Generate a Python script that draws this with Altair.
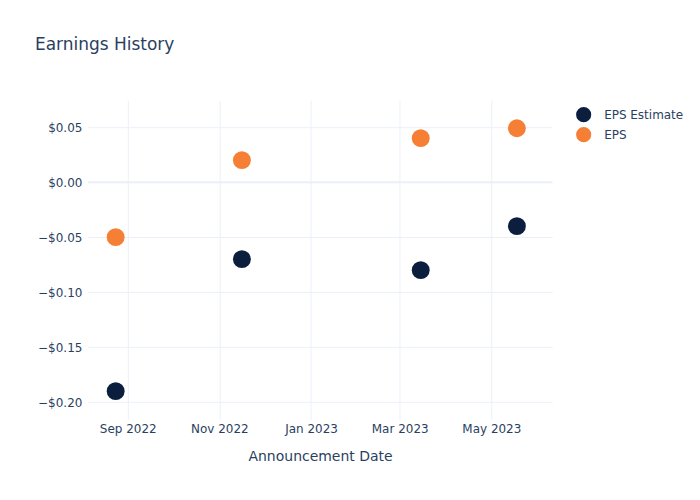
import altair as alt
import pandas as pd

dates = ["2022-08-24", "2022-11-16", "2023-03-15", "2023-05-18"]
eps_estimate = [-0.19, -0.07, -0.08, -0.04]
eps_actual = [-0.05, 0.02, 0.04, 0.049]
series_names = ["EPS Estimate", "EPS"]
series_colors = ["#0b1e3e", "#f57f35"]

rows = []
for d, e, a in zip(dates, eps_estimate, eps_actual):
    rows.append({"date": d, "value": e, "series": series_names[0]})
    rows.append({"date": d, "value": a, "series": series_names[1]})
df = pd.DataFrame(rows)

font = "DejaVu Sans"
txt = "#2a3f5f"
grid = "#ebf0f8"

xscale = alt.Scale(domain=["2022-08-05T12:00:00", "2023-06-10T12:00:00"], nice=False)
yscale = alt.Scale(domain=[-0.216, 0.0745], nice=False, zero=False)
yaxis = alt.Axis(values=[-0.2, -0.15, -0.1, -0.05, 0, 0.05], format="$.2f",
                 grid=True, gridColor=grid, domain=False, ticks=False,
                 labelPadding=6, labelFontSize=12, labelColor=txt, labelFont=font)

points = alt.Chart(df).mark_circle(size=320, opacity=1).encode(
    x=alt.X("date:T", title="Announcement Date", scale=xscale,
            axis=alt.Axis(format="%b %Y", tickCount={"interval": "month", "step": 2},
                          grid=True, gridColor=grid, domain=False, ticks=False,
                          labelPadding=4, labelFontSize=12, labelColor=txt,
                          titleFontSize=14, titleColor=txt, titleFontWeight="normal",
                          titlePadding=15, labelFont=font, titleFont=font)),
    y=alt.Y("value:Q", title=None, scale=yscale, axis=yaxis),
    color=alt.Color("series:N", title=None,
                    scale=alt.Scale(domain=series_names, range=series_colors),
                    sort=series_names,
                    legend=alt.Legend(orient="none", legendX=488, legendY=6,
                                      symbolType="circle", symbolSize=230,
                                      symbolOpacity=1, labelFontSize=12, labelColor=txt,
                                      labelFont=font, rowPadding=3, labelOffset=12)),
)

zero = alt.Chart(pd.DataFrame({"z": [0]})).mark_rule(color=grid, strokeWidth=2).encode(
    y=alt.Y("z:Q", scale=yscale, axis=yaxis, title=None)
)

chart = alt.layer(zero, points).properties(
    width=465, height=320,
    title=alt.TitleParams("Earnings History", anchor="start", frame="group",
                          dx=-53, offset=46, fontSize=17, color=txt,
                          fontWeight="normal", font=font),
    autosize=alt.AutoSizeParams(type="none"),
    padding={"left": 80, "top": 92, "right": 140, "bottom": 72},
    background="white",
).configure_view(stroke=None)

chart.save("out.html", embed_options={"renderer": "svg", "actions": False})
